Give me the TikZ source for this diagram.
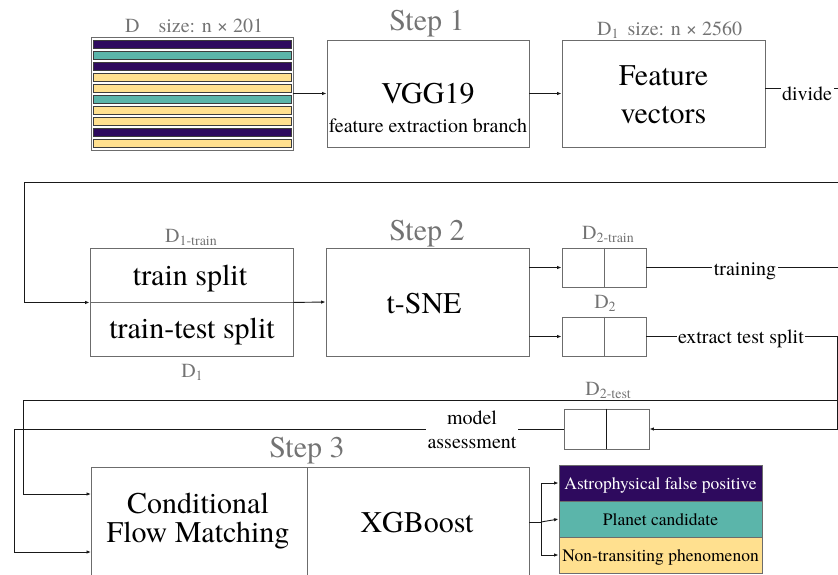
\documentclass[tikz,border=0pt]{standalone}
\usepackage{fontspec}
\setmainfont{TeX Gyre Termes}
\usetikzlibrary{arrows.meta}
\definecolor{edgegray}{RGB}{108,108,108}
\definecolor{labgray}{RGB}{115,115,115}
\definecolor{ink}{RGB}{25,25,25}
\definecolor{vpurple}{RGB}{46,10,94}
\definecolor{vteal}{RGB}{91,181,170}
\definecolor{vyellow}{RGB}{255,224,143}
% D with a lowered, smaller subscript
\newcommand\dsub[1]{D\raisebox{-3.5pt}{\fontsize{14}{14}\selectfont #1}}
\begin{document}
\begin{tikzpicture}[x=1pt,y=-1pt,
  box/.style={draw=edgegray,line width=0.9pt,inner sep=0pt,fill=white},
  big/.style={font=\fontsize{30}{36}\selectfont,inner sep=0pt},
  mid/.style={font=\fontsize{20}{24}\selectfont,inner sep=0pt},
  steplab/.style={big,text=labgray},
  dlab/.style={mid,text=labgray},
  wire/.style={draw=ink,line width=0.9pt},
  arrow/.style={wire,-{Latex[length=4.5pt,width=3.5pt]}},
  online/.style={mid,fill=white,inner sep=1.5pt},
  stripe/.style={draw=ink!85,line width=0.6pt},
  cls/.style={draw=edgegray,line width=0.9pt,minimum width=203pt,minimum height=36pt,
    inner sep=0pt,font=\fontsize{17.5}{20}\selectfont,text height=12pt,text depth=0pt}
]
\useasboundingbox (0,0) rectangle (838,574);
\begin{scope}
\clip (0,0) rectangle (838,574);

% ---------- Step 1 ----------
\node[box,minimum width=202pt,minimum height=113pt] (dbox) at (192,93.5) {};
\foreach \c [count=\i from 0] in {vpurple,vteal,vpurple,vyellow,vyellow,vteal,vyellow,vyellow,vpurple,vyellow}
  \draw[stripe,fill=\c] (93,{40+11*\i}) rectangle (291,{48+11*\i});
\node[dlab,anchor=base west] (dsize) at (125,32) {D\hspace{19pt}size: n × 201};

\node[box,minimum width=202pt,minimum height=107pt] (vgg) at (428,93.5) {};
\node[steplab,anchor=base] (step1) at (427,30) {Step 1};
\node[big,anchor=base] (vggt) at (428,103) {VGG19};
\node[mid,anchor=base] (vggs) at (428,132) {feature extraction branch};

\node[box,minimum width=203pt,minimum height=107pt] (fv) at (663.5,93.5) {};
\node[dlab,anchor=base west] (d1size) at (597,35) {\dsub{1}\hspace{9pt}size: n × 2560};
\node[big,anchor=base] (fvt1) at (663.5,85) {Feature};
\node[big,anchor=base] (fvt2) at (663.5,123) {vectors};

% ---------- Step 2 ----------
\node[box,minimum width=203pt,minimum height=54pt] (trs) at (191.5,275) {};
\node[box,minimum width=203pt,minimum height=54pt] (tts) at (191.5,329) {};
\node[dlab,anchor=base] (d1train) at (191,242) {\dsub{1-train}};
\node[big,anchor=base] (trst) at (190,285) {train split};
\node[big,anchor=base] (ttst) at (192,338) {train-test split};
\node[dlab,anchor=base] (d1low) at (192,377) {\dsub{1}};

\node[box,minimum width=203pt,minimum height=108pt] (tsne) at (427.5,302) {};
\node[steplab,anchor=base] (step2) at (427,240) {Step 2};
\node[big,anchor=base] (tsnet) at (424,313) {t-SNE};

\node[box,minimum width=84pt,minimum height=39pt] (d2train) at (604,267.5) {};
\draw[draw=edgegray,line width=0.9pt] (d2train.north) -- (d2train.south);
\node[dlab,anchor=base] (d2trainl) at (608,239) {\dsub{2-train}};

\node[box,minimum width=84pt,minimum height=39pt] (d2) at (604,336.5) {};
\draw[draw=edgegray,line width=0.9pt] (d2.north) -- (d2.south);
\node[dlab,anchor=base] (d2l) at (605,308) {\dsub{2}};

\node[box,minimum width=85pt,minimum height=40pt] (d2test) at (606.5,429) {};
\draw[draw=ink,line width=0.9pt] (d2test.north) -- (d2test.south);
\node[dlab,anchor=base] (d2testl) at (608,395) {\dsub{2-test}};

% ---------- Step 3 ----------
\node[box,minimum width=216pt,minimum height=110pt] (cfm) at (199,522) {};
\node[box,minimum width=222pt,minimum height=110pt] (xgb) at (418,522) {};
\node[steplab,anchor=base] (step3) at (307,457) {Step 3};
\node[big,anchor=base] (cfmt1) at (198,513) {Conditional};
\node[big,anchor=base] (cfmt2) at (198,542) {Flow Matching};
\node[big,anchor=base] (xgbt) at (417,532) {XGBoost};

\node[cls,fill=vpurple,text=white] (afp) at (660.5,483) {Astrophysical false positive};
\node[cls,fill=vteal] (pc) at (660.5,519) {Planet candidate};
\node[cls,fill=vyellow] (ntp) at (660.5,555) {Non-transiting phenomenon};

% ---------- connectors ----------
\coordinate (divout) at (845,88);
\coordinate (loopin) at (845,182);
\coordinate (trainout) at (845,267.5);
\coordinate (trainback) at (845,400);
\coordinate (loopA) at (24,182);
\coordinate (loopB) at (23,400);
\coordinate (loopC) at (14,429);
\coordinate (cfmA) at (91,494);
\coordinate (cfmB) at (91,552);
\coordinate (turn) at (837,336.5);
\coordinate (br) at (541,522);

\draw[arrow] (dbox) -- (vgg);
\draw[arrow] (vgg) -- (fv);
\draw[wire] (fv.east |- divout) -- (divout);
\draw[arrow] (loopin) -- (loopA) |- (trs.south west);
\draw[arrow] (trs.south east) -- (tsne.west);
\draw[arrow] (tsne.east |- d2train.west) -- (d2train.west);
\draw[arrow] (tsne.east |- d2.west) -- (d2.west);
\draw[wire] (d2train.east) -- (trainout);
\draw[arrow] (d2.east) -- (turn) |- (d2test.east);
\draw[arrow] (trainback) -- (loopB) |- (cfmA);
\draw[arrow] (d2test.west) -- (loopC) |- (cfmB);
\draw[wire] (xgb.east |- br) -- (br);
\draw[arrow] (br) |- (afp.west);
\draw[arrow] (br) -- (pc.west);
\draw[arrow] (br) |- (ntp.west);

% ---------- labels on connectors ----------
\node[online,anchor=base] (divl) at (807,100) {divide};
\node[online,anchor=base] (trainl) at (745,275) {training};
\node[online,anchor=base] (extl) at (741,343) {extract test split};
\node[online,align=center,font=\fontsize{20}{24}\selectfont,inner sep=2pt] (assl) at (472,430) {model\\assessment};
\end{scope}
\end{tikzpicture}
\end{document}
